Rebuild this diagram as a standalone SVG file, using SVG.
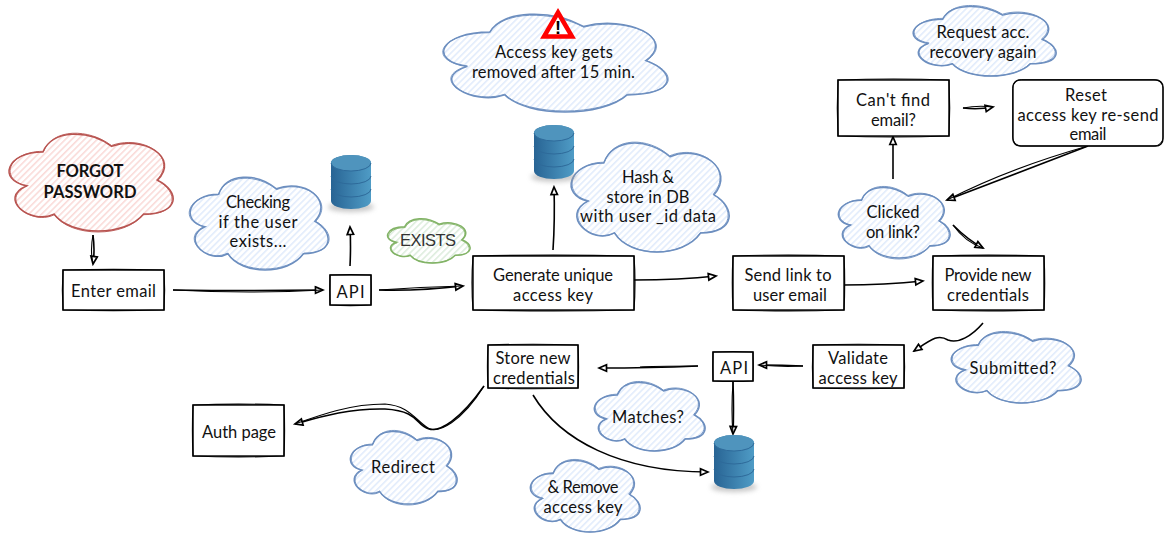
<svg xmlns="http://www.w3.org/2000/svg" xmlns:xlink="http://www.w3.org/1999/xlink" width="1164" height="537" viewBox="0 0 1164 537">
<style>
text{font-family:"Lato","Open Sans","Liberation Sans",sans-serif;font-size:16.5px;fill:#111;text-anchor:middle;transform:translateY(1px)}
.b{font-weight:700}
.e{font-family:"Liberation Sans",Arial,sans-serif;fill:#333}
.nss{vector-effect:non-scaling-stroke}
.box{fill:#fff;stroke:#000;stroke-width:1.4}
.sk{fill:none;stroke:#000;stroke-width:1.2}
.cb{fill:none;stroke:#6c8ebf;stroke-width:1.5}
.cb2{fill:none;stroke:#6c8ebf;stroke-width:.9}
.cr{fill:none;stroke:#b85450;stroke-width:1.5}
.cr2{fill:none;stroke:#b85450;stroke-width:.9}
.cg{fill:none;stroke:#82b366;stroke-width:1.5}
.cg2{fill:none;stroke:#82b366;stroke-width:.9}
#connectors path{fill:none;stroke:#000;stroke-width:1.6}
#connectors path.a{marker-end:url(#arr)}
#connectors path.s{stroke-width:1.1}
</style>
<defs>
<marker id="arr" markerUnits="userSpaceOnUse" markerWidth="12" markerHeight="10" refX="10" refY="5" orient="auto">
<path d="M2.5 1.8L10 5L2.5 8.2Z" fill="#fff" stroke="#000" stroke-width="1.7"/>
</marker>
<pattern id="hb" width="4.5" height="4.5" patternUnits="userSpaceOnUse" patternTransform="rotate(45)"><rect width="4.5" height="4.5" fill="#fff"/><rect width="1.6" height="4.5" fill="#e2ecfc"/></pattern>
<pattern id="hr" width="4.5" height="4.5" patternUnits="userSpaceOnUse" patternTransform="rotate(45)"><rect width="4.5" height="4.5" fill="#fff"/><rect width="1.6" height="4.5" fill="#fadbd9"/></pattern>
<pattern id="hg" width="4.5" height="4.5" patternUnits="userSpaceOnUse" patternTransform="rotate(45)"><rect width="4.5" height="4.5" fill="#fff"/><rect width="1.6" height="4.5" fill="#deedde"/></pattern>
<path id="cloud" class="nss" d="M.2022 .1765C-.0225 .1765 -.0787 .4706 .1011 .5294C-.0787 .6588 .1236 .9412 .2697 .8235C.3708 1.0588 .7079 1.0588 .8202 .8235C1.0449 .8235 1.0449 .5882 .9045 .4706C1.0449 .2353 .8202 0 .6236 .1176C.4831 -.0588 .2584 -.0588 .2022 .1765Z"/>
<path id="skb" class="nss" d="M0 0Q.5 -.035 1 0Q1.012 .5 1 1Q.5 1.035 0 1Q-.012 .5 0 0Z"/>
<clipPath id="c1"><use href="#cloud" transform="translate(10 135) scale(163 96)"/></clipPath>
<clipPath id="c2"><use href="#cloud" transform="translate(191 178) scale(137 92)"/></clipPath>
<clipPath id="c3"><use href="#cloud" transform="translate(445 15) scale(222 97)"/></clipPath>
<clipPath id="c4"><use href="#cloud" transform="translate(572 144) scale(157 108)"/></clipPath>
<clipPath id="c5"><use href="#cloud" transform="translate(388 219) scale(82 44)"/></clipPath>
<clipPath id="c6"><use href="#cloud" transform="translate(914 7) scale(142 69)"/></clipPath>
<clipPath id="c7"><use href="#cloud" transform="translate(839 188) scale(111 70)"/></clipPath>
<clipPath id="c8"><use href="#cloud" transform="translate(351 432) scale(106 72)"/></clipPath>
<clipPath id="c9"><use href="#cloud" transform="translate(531 461) scale(109 71)"/></clipPath>
<clipPath id="c10"><use href="#cloud" transform="translate(595 383) scale(110 68)"/></clipPath>
<clipPath id="c11"><use href="#cloud" transform="translate(952 333) scale(129 70)"/></clipPath>
<linearGradient id="dbg" x1="0" x2="1" y1="0" y2="0"><stop offset="0" stop-color="#286494"/><stop offset="1" stop-color="#4f9cc6"/></linearGradient>
<filter id="blur" x="-30%" y="-100%" width="160%" height="300%"><feGaussianBlur stdDeviation="2.5"/></filter>
<g id="db">
<ellipse cx="20" cy="52" rx="23" ry="5" fill="#999" opacity=".55" filter="url(#blur)"/>
<path d="M0 8A20 8 0 0 1 40 8V46A20 8 0 0 1 0 46Z" fill="url(#dbg)"/>
<ellipse cx="20" cy="8" rx="20" ry="8" fill="#4f94bd"/>
<path d="M0 8A20 8 0 0 0 40 8M0 21A20 8 0 0 0 40 21M0 34A20 8 0 0 0 40 34" fill="none" stroke="#2e6a9a" stroke-width="1"/>
</g>
</defs>
<rect width="1164" height="537" fill="#fff"/>

<g id="connectors">
<path class="a" d="M93 235Q95 250 93 264"/><path class="s" d="M93 235Q90 250 93 264"/>
<path class="a" d="M173 290Q250 291 323 290"/><path class="s" d="M173 290Q250 294 323 290"/>
<path class="a" d="M350 266Q351 246 350 227"/>
<path class="a" d="M379 290Q420 291 463 286"/><path class="s" d="M379 290Q420 287 463 286"/>
<path class="a" d="M553 250Q555 220 554 187"/>
<path class="a" d="M634 280Q680 280 716 276"/>
<path class="a" d="M843 285Q885 285 923 281"/>
<path class="a" d="M893 179Q893 160 893 137"/>
<path class="a" d="M963 108Q978 110 993 107"/><path class="s" d="M963 108Q978 105 993 107"/>
<path class="a" d="M1088 146Q1010 176 947 200"/><path class="s" d="M1088 146Q1010 168 947 200"/>
<path class="a" d="M953 225Q968 240 983 248"/><path class="s" d="M953 225Q965 242 983 248"/>
<path class="a" d="M983 323C972 336 958 344 948 340C938 334 932 339 914 351"/>
<path class="a" d="M803 366Q780 365 759 365"/><path class="s" d="M803 366Q780 367 759 365"/>
<path class="a" d="M698 366Q650 368 599 368"/><path class="s" d="M698 366Q650 366 640 367"/>
<path class="a" d="M733 382Q734 410 733 434"/><path class="s" d="M733 382Q731 410 733 434"/>
<path class="a" d="M533 395C560 440 620 472 708 472"/>
<path class="a" d="M484 386C460 420 440 432 429 429C415 425 420 411 385 409C350 408 320 417 295 424"/><path class="s" d="M484 386C462 422 438 434 428 428C415 420 410 406 385 404C350 404 320 415 295 424"/>
</g>

<g id="n-forgot"><g clip-path="url(#c1)"><rect x="0" y="130" width="180" height="110" fill="url(#hr)"/></g><use href="#cloud" class="cr" transform="translate(10 135) scale(163 96)"/><use href="#cloud" class="cr2" transform="translate(11 134) scale(161 98)"/><text class="b" x="90" y="176" textLength="67">FORGOT</text><text class="b" x="90" y="197" textLength="93">PASSWORD</text></g>
<g id="n-checking"><g clip-path="url(#c2)"><rect x="185" y="170" width="150" height="105" fill="url(#hb)"/></g><use href="#cloud" class="cb" transform="translate(191 178) scale(137 92)"/><use href="#cloud" class="cb2" transform="translate(190 179) scale(139 90)"/><text x="258" y="207" textLength="64">Checking</text><text x="258" y="227" textLength="79">if the user</text><text x="258" y="246" textLength="57">exists...</text></g>
<g id="n-access"><g clip-path="url(#c3)"><rect x="440" y="5" width="235" height="112" fill="url(#hb)"/></g><use href="#cloud" class="cb" transform="translate(445 15) scale(222 97)"/><use href="#cloud" class="cb2" transform="translate(444 16) scale(224 95)"/><text x="554" y="57" textLength="118">Access key gets</text><text x="553.5" y="77" textLength="163">removed after 15 min.</text></g>
<g id="n-warning"><path d="M558 12.5L572 36.5H544Z" fill="#fff" stroke="#f00" stroke-width="4.5" stroke-linejoin="miter"/><text class="e" x="558" y="33" style="font-size:18px;font-weight:700;fill:#000">!</text></g>
<g id="n-hash"><g clip-path="url(#c4)"><rect x="565" y="135" width="170" height="120" fill="url(#hb)"/></g><use href="#cloud" class="cb" transform="translate(572 144) scale(157 108)"/><use href="#cloud" class="cb2" transform="translate(573 143) scale(155 109)"/><text x="648" y="182" textLength="52">Hash &amp;</text><text x="648" y="202" textLength="83">store in DB</text><text x="648" y="221" textLength="136">with user _id data</text></g>
<g id="n-exists"><g clip-path="url(#c5)"><rect x="380" y="215" width="95" height="52" fill="url(#hg)"/></g><use href="#cloud" class="cg" transform="translate(388 219) scale(82 44)"/><use href="#cloud" class="cg2" transform="translate(389 220) scale(80 43)"/><text class="e" x="428" y="245" textLength="56">EXISTS</text></g>
<g id="n-request"><g clip-path="url(#c6)"><rect x="905" y="0" width="160" height="80" fill="url(#hb)"/></g><use href="#cloud" class="cb" transform="translate(914 7) scale(142 69)"/><use href="#cloud" class="cb2" transform="translate(915 6) scale(140 70)"/><text x="983" y="37" textLength="93">Request acc.</text><text x="983" y="57" textLength="107">recovery again</text></g>
<g id="n-clicked"><g clip-path="url(#c7)"><rect x="830" y="180" width="125" height="82" fill="url(#hb)"/></g><use href="#cloud" class="cb" transform="translate(839 188) scale(111 70)"/><use href="#cloud" class="cb2" transform="translate(840 187) scale(109 72)"/><text x="893" y="217" textLength="53">Clicked</text><text x="893" y="237" textLength="54">on link?</text></g>
<g id="n-redirect"><g clip-path="url(#c8)"><rect x="345" y="425" width="118" height="85" fill="url(#hb)"/></g><use href="#cloud" class="cb" transform="translate(351 432) scale(106 72)"/><use href="#cloud" class="cb2" transform="translate(352 431) scale(104 74)"/><text x="403" y="472" textLength="64">Redirect</text></g>
<g id="n-remove"><g clip-path="url(#c9)"><rect x="525" y="455" width="120" height="82" fill="url(#hb)"/></g><use href="#cloud" class="cb" transform="translate(531 461) scale(109 71)"/><use href="#cloud" class="cb2" transform="translate(532 460) scale(107 72)"/><text x="583" y="492" textLength="71">&amp; Remove</text><text x="583" y="512" textLength="79">access key</text></g>
<g id="n-matches"><g clip-path="url(#c10)"><rect x="590" y="375" width="120" height="80" fill="url(#hb)"/></g><use href="#cloud" class="cb" transform="translate(595 383) scale(110 68)"/><use href="#cloud" class="cb2" transform="translate(596 382) scale(108 69)"/><text x="648" y="422" textLength="72">Matches?</text></g>
<g id="n-submitted"><g clip-path="url(#c11)"><rect x="945" y="325" width="140" height="82" fill="url(#hb)"/></g><use href="#cloud" class="cb" transform="translate(952 333) scale(129 70)"/><use href="#cloud" class="cb2" transform="translate(953 332) scale(127 71)"/><text x="1013" y="373" textLength="87">Submitted?</text></g>

<g id="n-enter"><rect class="box" x="63" y="270" width="101" height="40"/><use href="#skb" class="sk" transform="translate(63 270) scale(101 40)"/><text x="113.5" y="296" textLength="85">Enter email</text></g>
<g id="n-api1"><rect class="box" x="330" y="275" width="41" height="30"/><use href="#skb" class="sk" transform="translate(330 275) scale(41 30)"/><text x="350.5" y="297" textLength="28">API</text></g>
<g id="n-generate"><rect class="box" x="473" y="256" width="161" height="54"/><use href="#skb" class="sk" transform="translate(473 256) scale(161 54)"/><text x="553" y="280" textLength="120">Generate unique</text><text x="553" y="300" textLength="80">access key</text></g>
<g id="n-send"><rect class="box" x="733" y="256" width="111" height="54"/><use href="#skb" class="sk" transform="translate(733 256) scale(111 54)"/><text x="788" y="280" textLength="87">Send link to</text><text x="790" y="300" textLength="74">user email</text></g>
<g id="n-provide"><rect class="box" x="933" y="256" width="111" height="54"/><use href="#skb" class="sk" transform="translate(933 256) scale(111 54)"/><text x="988" y="280" textLength="87">Provide new</text><text x="988" y="300" textLength="82">credentials</text></g>
<g id="n-cant"><rect class="box" x="838" y="80" width="111" height="56"/><use href="#skb" class="sk" transform="translate(838 80) scale(111 56)"/><text x="893" y="105" textLength="74">Can't find</text><text x="893.5" y="125" textLength="45">email?</text></g>
<g id="n-reset"><rect class="box" x="1013" y="80" width="150" height="66" rx="7"/><rect x="1012.5" y="79.5" width="150.5" height="66.5" rx="9" fill="none" stroke="#000" stroke-width=".8"/><text x="1086" y="100" textLength="42">Reset</text><text x="1088" y="120" textLength="141">access key re-send</text><text x="1088" y="139" textLength="37">email</text></g>
<g id="n-store"><rect class="box" x="488" y="345" width="90" height="43"/><use href="#skb" class="sk" transform="translate(488 345) scale(90 43)"/><text x="533" y="363" textLength="75">Store new</text><text x="534" y="383" textLength="82">credentials</text></g>
<g id="n-auth"><rect class="box" x="193" y="405" width="91" height="51"/><use href="#skb" class="sk" transform="translate(193 405) scale(91 51)"/><text x="239" y="437" textLength="74">Auth page</text></g>
<g id="n-validate"><rect class="box" x="813" y="345" width="91" height="43"/><use href="#skb" class="sk" transform="translate(813 345) scale(91 43)"/><text x="858" y="363" textLength="60">Validate</text><text x="858" y="383" textLength="79">access key</text></g>
<g id="n-api2"><rect class="box" x="713" y="352" width="40" height="29"/><use href="#skb" class="sk" transform="translate(713 352) scale(40 29)"/><text x="734" y="373" textLength="28">API</text></g>
<g id="n-db1"><use href="#db" x="331" y="155"/></g>
<g id="n-db2"><use href="#db" x="534" y="125"/></g>
<g id="n-db3"><use href="#db" x="714" y="435"/></g>
</svg>
